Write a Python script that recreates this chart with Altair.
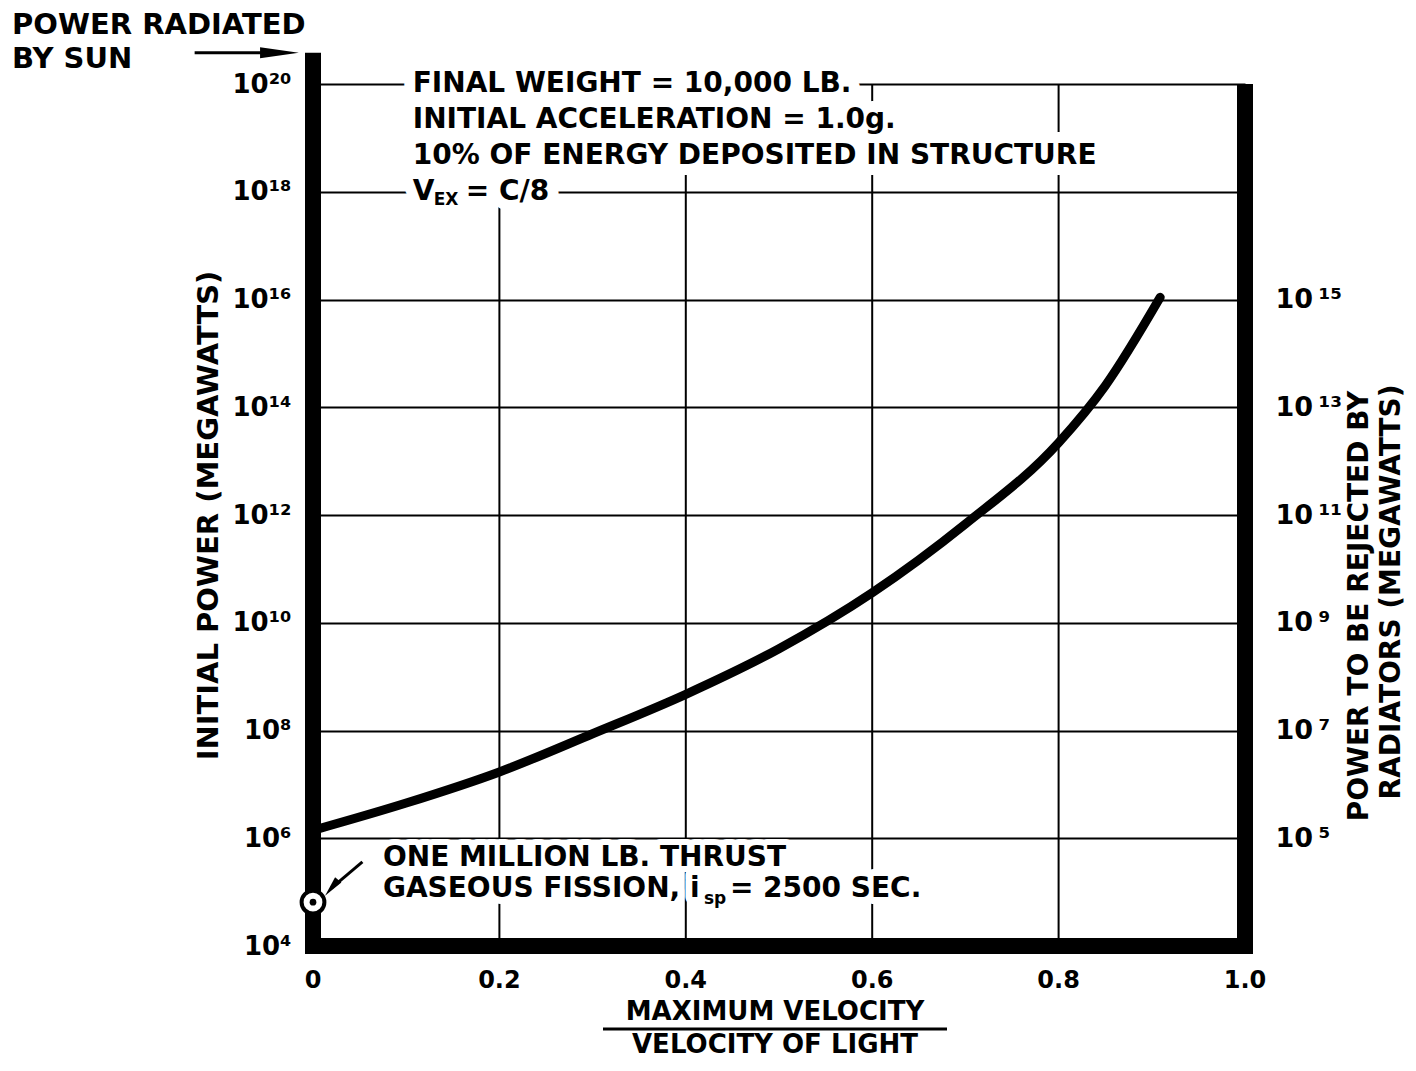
import altair as alt
import pandas as pd

FONT = "DejaVu Sans"

# ---------------- data ----------------
velocity_ratio = [0.0, 0.1, 0.2, 0.3, 0.4, 0.5, 0.6, 0.7, 0.8, 0.85, 0.909]
initial_power = [1.4e6, 4.5e6, 1.7e7, 8.7e7, 4.7e8, 3.3e9, 3.6e10, 6.8e11, 2.2e13, 2.5e14, 1.1e16]

fission_velocity = [0.0]
fission_power = [6.5e4]          # one million lb thrust gaseous fission point

sun_power = [3.8e20]             # power radiated by sun (MW)

x_ticks = [0.0, 0.2, 0.4, 0.6, 0.8, 1.0]
x_tick_labels = ["0", "0.2", "0.4", "0.6", "0.8", "1.0"]
x_grid = [0.2, 0.4, 0.6, 0.8]

left_exponents = [4, 6, 8, 10, 12, 14, 16, 18, 20]
left_tick_labels = ["10⁴", "10⁶", "10⁸", "10¹⁰", "10¹²", "10¹⁴", "10¹⁶", "10¹⁸", "10²⁰"]

right_exponents = [6, 8, 10, 12, 14, 16]          # positions on the shared scale
right_tick_labels = ["10\u2009⁵", "10\u2009⁷", "10\u2009⁹", "10\u2009¹¹", "10\u2009¹³", "10\u2009¹⁵"]

x_title = ["MAXIMUM VELOCITY", "VELOCITY OF LIGHT"]
left_title = "INITIAL POWER (MEGAWATTS)"
right_title = ["POWER TO BE REJECTED BY", "RADIATORS (MEGAWATTS)"]
sun_label = ["POWER RADIATED", "BY SUN"]

y_min, y_max = 1e4, 1e20
x_min, x_max = 0.0, 1.0

note_lines = ["FINAL WEIGHT = 10,000 LB.", "INITIAL ACCELERATION = 1.0g.",
              "10% OF ENERGY DEPOSITED IN STRUCTURE"]
note_exponents = [20.0, 19.33, 18.67]
vex_exponent = 18.0
note_x = 0.107

fission_lines = ["ONE MILLION LB. THRUST"]
fission_note_x = 0.075
fission_exponents = [5.64, 5.05]

# ---------------- helpers ----------------
def nested_expr(keys, labels, key_expr):
    expr = "''"
    for k, l in zip(reversed(keys), reversed(labels)):
        expr = f"({key_expr} == {k}) ? '{l}' : ({expr})"
    return expr

xscale = alt.Scale(domain=[x_min, x_max], nice=False, zero=False)
yscale = alt.Scale(type="log", domain=[y_min, y_max], nice=False)

X = lambda f: alt.X(f, scale=xscale, axis=None)
Y = lambda f: alt.Y(f, scale=yscale, axis=None)

curve_df = pd.DataFrame({"v": velocity_ratio, "p": initial_power})

left_axis = alt.Axis(
    orient="left",
    values=[10.0 ** e for e in left_exponents],
    labelExpr=nested_expr(left_exponents, left_tick_labels, "round(log(datum.value)/LN10)"),
    grid=True, gridColor="black", gridWidth=2, gridOpacity=1,
    domain=False, ticks=False,
    labelFont=FONT, labelFontSize=26, labelFontWeight="bold", labelColor="black",
    labelPadding=22, labelFlush=False,
    title=left_title,
    titleFont=FONT, titleFontSize=29, titleFontWeight="bold", titleColor="black",
    titlePadding=9,
)

right_axis = alt.Axis(
    orient="right",
    values=[10.0 ** e for e in right_exponents],
    labelExpr=nested_expr(right_exponents, right_tick_labels, "round(log(datum.value)/LN10)"),
    grid=False, domain=False, ticks=False,
    labelFont=FONT, labelFontSize=27, labelFontWeight="bold", labelColor="black",
    labelPadding=30, labelFlush=False, title=None,
)

# ---------------- layers ----------------
curve = alt.Chart(curve_df).mark_line(
    color="black", strokeWidth=9, interpolate="monotone", strokeCap="round"
).encode(
    x=X("v:Q"),
    y=alt.Y("p:Q", scale=yscale, axis=left_axis),
)

vgrid = alt.Chart(pd.DataFrame({"x": x_grid, "y0": [y_min] * len(x_grid), "y1": [y_max] * len(x_grid)})).mark_rule(
    color="black", strokeWidth=2
).encode(x=X("x:Q"), y=Y("y0:Q"), y2="y1:Q")

left_bar = alt.Chart(pd.DataFrame({"x": [x_min], "y0": [y_min], "y1": sun_power})).mark_rule(
    color="black", strokeWidth=16, strokeCap="butt", clip=False
).encode(x=X("x:Q"), y=Y("y0:Q"), y2="y1:Q")

right_bar = alt.Chart(pd.DataFrame({"x": [x_max], "y0": [y_min], "y1": [y_max]})).mark_rule(
    color="black", strokeWidth=16, strokeCap="butt", clip=False
).encode(x=X("x:Q"), y=alt.Y("y0:Q", scale=yscale, axis=right_axis), y2="y1:Q")

bottom_bar = alt.Chart(pd.DataFrame({"x0": [x_min], "x1": [x_max], "y": [y_min]})).mark_rule(
    color="black", strokeWidth=16, strokeCap="square", clip=False
).encode(x=X("x0:Q"), x2="x1:Q", y=Y("y:Q"))

x_labels = alt.Chart(pd.DataFrame({"x": x_ticks, "t": x_tick_labels})).mark_text(
    align="center", baseline="middle", font=FONT, fontWeight="bold", fontSize=24,
    color="black", clip=False
).encode(x=X("x:Q"), y=alt.value(897), text="t:N")


def text_layer(texts, xs, ys, size=28, dx=0, dy=0, halo=0):
    df = pd.DataFrame({"t": texts, "x": xs, "y": ys})
    props = dict(align="left", baseline="middle", font=FONT, fontWeight="bold",
                 fontSize=size, dx=dx, dy=dy, clip=False)
    if halo:
        props.update(fill="white", stroke="white", strokeWidth=halo, strokeJoin="round")
    else:
        props.update(color="black")
    return alt.Chart(df).mark_text(**props).encode(x=X("x:Q"), y=Y("y:Q"), text="t:N")


note_ys = [10.0 ** e for e in note_exponents]
vex_y = [10.0 ** vex_exponent]
fis_y0 = [10.0 ** fission_exponents[0]]
fis_y1 = [10.0 ** fission_exponents[1]]

# (texts, xs, ys, size, dx, dy, halo width)
text_specs = [
    (note_lines, [note_x] * 3, note_ys, 28, 0, 0, 22),
    (["V"], [note_x], vex_y, 28, 0, 0, 22),
    (["EX"], [note_x], vex_y, 17, 21, 8, 14),
    (["= C/8"], [note_x], vex_y, 28, 53, 0, 22),
    (fission_lines, [fission_note_x], fis_y0, 28, 0, 0, 12),
    (["GASEOUS FISSION, i"], [fission_note_x], fis_y1, 28, 0, 0, 14),
    (["sp"], [fission_note_x], fis_y1, 17, 321, 10, 12),
    (["= 2500 SEC."], [fission_note_x], fis_y1, 28, 347, 0, 14),
]

halos = [text_layer(*s[:3], size=s[3], dx=s[4], dy=s[5], halo=s[6]) for s in text_specs]
texts = [text_layer(*s[:3], size=s[3], dx=s[4], dy=s[5]) for s in text_specs]

# fission point marker
fis_df = pd.DataFrame({"x": fission_velocity, "y": fission_power})
fis_ring = alt.Chart(fis_df).mark_point(
    shape="circle", size=520, fill="white", fillOpacity=1, stroke="black",
    strokeWidth=4, opacity=1, clip=False
).encode(x=X("x:Q"), y=Y("y:Q"))
fis_dot = alt.Chart(fis_df).mark_circle(size=45, color="black", opacity=1, clip=False).encode(
    x=X("x:Q"), y=Y("y:Q"))

# pointer arrow to fission point
arrow_df = pd.DataFrame({"x0": [0.053], "y0": [10 ** 5.56], "x1": [0.02], "y1": [10 ** 5.08]})
arrow_shaft = alt.Chart(arrow_df).mark_rule(color="black", strokeWidth=3, clip=False).encode(
    x=X("x0:Q"), y=Y("y0:Q"), x2="x1:Q", y2="y1:Q")
arrow_head = alt.Chart(arrow_df).mark_point(
    shape="M 0 -1 L 0.4 1 L -0.4 1 Z", size=420, filled=True, color="black",
    opacity=1, angle=220, clip=False
).encode(x=X("x1:Q"), y=Y("y1:Q"))

# sun arrow
sun_df = pd.DataFrame({"x0": [-0.127], "x1": [-0.036], "y": sun_power})
sun_shaft = alt.Chart(sun_df).mark_rule(color="black", strokeWidth=3, clip=False).encode(
    x=X("x0:Q"), x2="x1:Q", y=Y("y:Q"))
sun_head = alt.Chart(sun_df).mark_point(
    shape="M -1 -0.28 L 1 0 L -1 0.28 Z", size=1500, filled=True, color="black",
    opacity=1, clip=False
).encode(x=X("x1:Q"), y=Y("y:Q"))


def pixel_text(text, px, py, size, align="left", angle=0):
    return alt.Chart(pd.DataFrame({"t": [text]})).mark_text(
        align=align, baseline="middle", font=FONT, fontWeight="bold", fontSize=size,
        color="black", clip=False, angle=angle
    ).encode(x=alt.value(px), y=alt.value(py), text="t:N")


sun_text1 = pixel_text(sun_label[0], -301, -59, 29)
sun_text2 = pixel_text(sun_label[1], -301, -25, 29)

x_title1 = pixel_text(x_title[0], 462, 928, 26, align="center")
x_title2 = pixel_text(x_title[1], 462, 961, 26, align="center")

right_title1 = pixel_text(right_title[0], 1047, 522, 28, align="center", angle=270)
right_title2 = pixel_text(right_title[1], 1079, 508, 28, align="center", angle=270)

# fraction bar under x title
frac_bar = alt.Chart(pd.DataFrame({"a": [0]})).mark_rule(
    color="black", strokeWidth=3, clip=False
).encode(x=alt.value(290), x2=alt.value(634), y=alt.value(945))

chart = alt.layer(
    curve, vgrid, *halos, *texts, left_bar, right_bar, bottom_bar, x_labels,
    arrow_shaft, arrow_head, fis_ring, fis_dot,
    sun_shaft, sun_head, sun_text1, sun_text2,
    x_title1, x_title2, right_title1, right_title2, frac_bar,
).resolve_axis(y="independent").properties(
    width=932, height=862,
    autosize=alt.AutoSizeParams(type="none"),
    padding={"left": 305, "top": 76, "right": 163, "bottom": 113},
).configure_view(stroke=None)

chart.save("out.html", embed_options={"renderer": "svg", "actions": False})
